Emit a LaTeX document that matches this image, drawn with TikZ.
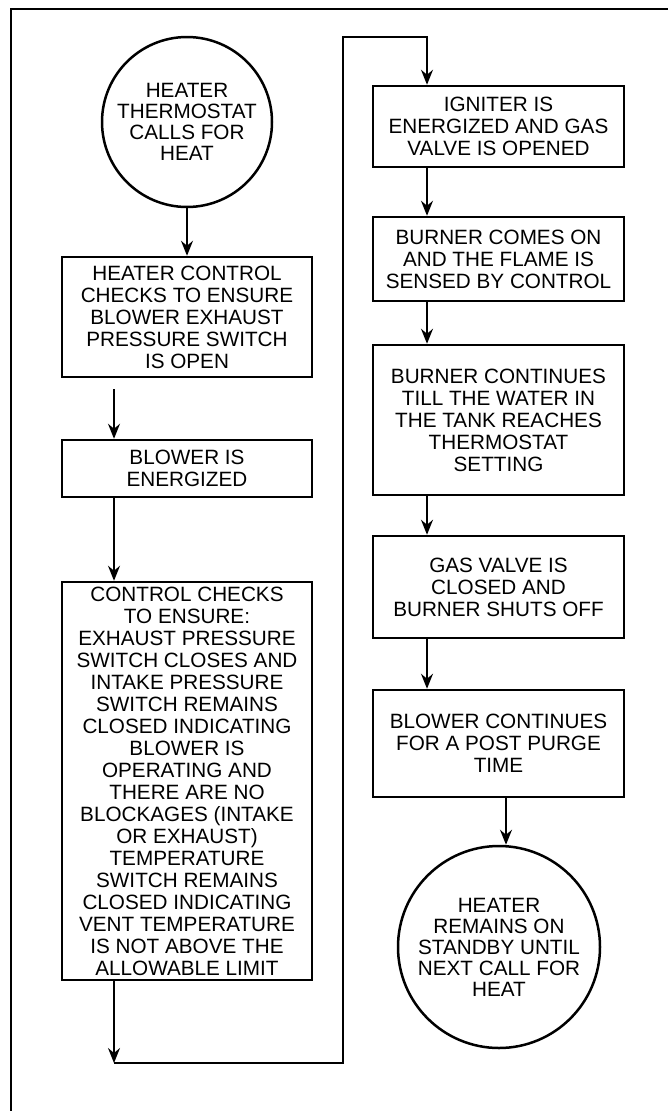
\documentclass[tikz,border=0pt]{standalone}
\usepackage{fontspec}
\setmainfont{Liberation Sans}
\usetikzlibrary{arrows.meta}
\newcommand{\flowfont}{\fontsize{20.7}{22}\selectfont}
\newcommand{\termfont}{\fontsize{20.7}{21}\selectfont}
\tikzset{
  stepbox/.style={rectangle, draw, line width=2.5pt, minimum width=250pt,
    inner sep=0pt, align=center, font=\flowfont},
  termnode/.style={circle, draw, line width=2.5pt, inner sep=0pt,
    align=center, font=\termfont},
  arrow/.style={-{Stealth[length=15pt,width=12pt,inset=5pt]}, line width=2pt},
  line/.style={line width=2pt},
  frame/.style={line width=2.5pt}
}

\begin{document}
\begin{tikzpicture}[x=1pt,y=-1pt]
  \useasboundingbox (0,0) rectangle (668,1111);
  % Outer frame
  \draw[frame] (668,9) -- (11,9) -- (11,1111);
  % Left column
  \node[termnode, minimum size=170pt] (start) at (187,122)
    {HEATER\\THERMOSTAT\\CALLS FOR\\HEAT};
  \node[stepbox, minimum height=120pt] (check) at (187,317)
    {HEATER CONTROL\\CHECKS TO ENSURE\\BLOWER EXHAUST\\PRESSURE SWITCH\\IS OPEN};
  \node[stepbox, minimum height=57pt] (blower) at (187,468.5)
    {BLOWER IS\\ENERGIZED};
  \node[stepbox, minimum height=398pt] (ensure) at (187,781)
    {CONTROL CHECKS\\TO ENSURE:\\EXHAUST PRESSURE\\SWITCH CLOSES AND\\INTAKE PRESSURE\\SWITCH REMAINS\\CLOSED INDICATING\\BLOWER IS\\OPERATING AND\\THERE ARE NO\\BLOCKAGES (INTAKE\\OR EXHAUST)\\TEMPERATURE\\SWITCH REMAINS\\CLOSED INDICATING\\VENT TEMPERATURE\\IS NOT ABOVE THE\\ALLOWABLE LIMIT};
  % Right column
  \node[stepbox, minimum width=251pt, minimum height=81pt] (igniter) at (498.5,126.5)
    {IGNITER IS\\ENERGIZED AND GAS\\VALVE IS OPENED};
  \node[stepbox, minimum width=251pt, minimum height=84pt] (flame) at (498.5,259)
    {BURNER COMES ON\\AND THE FLAME IS\\SENSED BY CONTROL};
  \node[stepbox, minimum width=251pt, minimum height=150pt] (burner) at (498.5,420)
    {BURNER CONTINUES\\TILL THE WATER IN\\THE TANK REACHES\\THERMOSTAT\\SETTING};
  \node[stepbox, minimum width=251pt, minimum height=102pt] (gasvalve) at (498.5,587)
    {GAS VALVE IS\\CLOSED AND\\BURNER SHUTS OFF};
  \node[stepbox, minimum width=251pt, minimum height=107pt] (purge) at (498.5,743.5)
    {BLOWER CONTINUES\\FOR A POST PURGE\\TIME};
  \node[termnode, minimum size=202pt] (standby) at (499,947)
    {HEATER\\REMAINS ON\\STANDBY UNTIL\\NEXT CALL FOR\\HEAT};
  % Connector columns
  \coordinate (lcol) at (114,0);
  \coordinate (rcol) at (427,0);
  \coordinate (ecol) at (506,0);
  \coordinate (turn) at (114,1063);
  \coordinate (riser) at (343,37);
  % Arrows
  \draw[arrow] (start) -- (check);
  \draw[arrow, shorten <=11pt] (check.south -| lcol) -- (blower.north -| lcol);
  \draw[arrow] (blower.south -| lcol) -- (ensure.north -| lcol);
  \draw[arrow] (ensure.south -| lcol) -- (turn);
  \draw[arrow] (turn) -| (riser) -| (igniter.north -| rcol);
  \draw[arrow] (igniter.south -| rcol) -- (flame.north -| rcol);
  \draw[arrow] (flame.south -| rcol) -- (burner.north -| rcol);
  \draw[arrow] (burner.south -| rcol) -- (gasvalve.north -| rcol);
  \draw[arrow] (gasvalve.south -| rcol) -- (purge.north -| rcol);
  \draw[arrow] (purge.south -| ecol) -- (standby.north -| ecol);
\end{tikzpicture}
\end{document}
